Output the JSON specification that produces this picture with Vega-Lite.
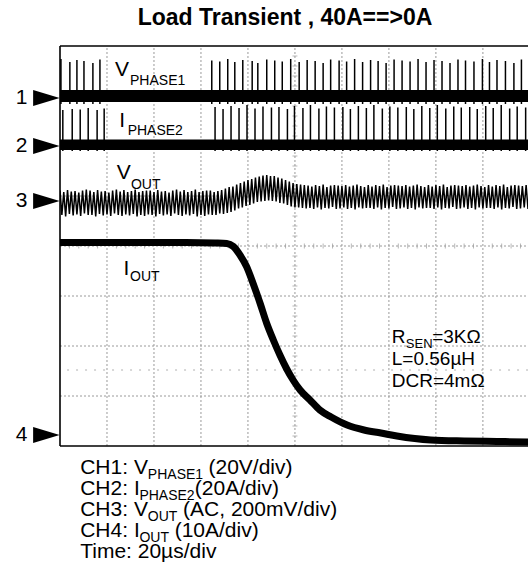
{
"$schema":"https://vega.github.io/schema/vega-lite/v6.json",
"width":468,"height":400,
"autosize":{"type":"none"},
"padding":{"left":60,"top":46,"right":0,"bottom":136},
"background":"white",
"config":{"view":{"stroke":null},"text":{"font":"Liberation Sans","color":"black"},"title":{"font":"Liberation Sans"}},
"title":{"text":"Load Transient , 40A==>0A","fontSize":23,"fontWeight":"bold","color":"black","anchor":"middle","frame":"group","dx":-9,"dy":23,"offset":20,"baseline":"alphabetic"},
"datasets":{
"grid":[{"t":1,"t2":1,"y":0,"y2":8},{"t":2,"t2":2,"y":0,"y2":8},{"t":3,"t2":3,"y":0,"y2":8},{"t":4,"t2":4,"y":0,"y2":8},{"t":5,"t2":5,"y":0,"y2":8},{"t":6,"t2":6,"y":0,"y2":8},{"t":7,"t2":7,"y":0,"y2":8},{"t":8,"t2":8,"y":0,"y2":8},{"t":9,"t2":9,"y":0,"y2":8},
{"t":0,"t2":9.96,"y":1,"y2":1},{"t":0,"t2":9.96,"y":2,"y2":2},{"t":0,"t2":9.96,"y":3,"y2":3},{"t":0,"t2":9.96,"y":4,"y2":4},{"t":0,"t2":9.96,"y":5,"y2":5},{"t":0,"t2":9.96,"y":6,"y2":6},{"t":0,"t2":9.96,"y":7,"y2":7}],
"dots":[{"t":0.15,"t2":9.96,"y":1.52,"y2":1.52}],
"xt":[{"t":0.2,"y":4},{"t":0.4,"y":4},{"t":0.6,"y":4},{"t":0.8,"y":4},{"t":1.2,"y":4},{"t":1.4,"y":4},{"t":1.6,"y":4},{"t":1.8,"y":4},{"t":2.2,"y":4},{"t":2.4,"y":4},{"t":2.6,"y":4},{"t":2.8,"y":4},{"t":3.2,"y":4},{"t":3.4,"y":4},{"t":3.6,"y":4},{"t":3.8,"y":4},{"t":4.2,"y":4},{"t":4.4,"y":4},{"t":4.6,"y":4},{"t":4.8,"y":4},{"t":5.2,"y":4},{"t":5.4,"y":4},{"t":5.6,"y":4},{"t":5.8,"y":4},{"t":6.2,"y":4},{"t":6.4,"y":4},{"t":6.6,"y":4},{"t":6.8,"y":4},{"t":7.2,"y":4},{"t":7.4,"y":4},{"t":7.6,"y":4},{"t":7.8,"y":4},{"t":8.2,"y":4},{"t":8.4,"y":4},{"t":8.6,"y":4},{"t":8.8,"y":4},{"t":9.2,"y":4},{"t":9.4,"y":4},{"t":9.6,"y":4},{"t":9.8,"y":4}],
"yt":[{"t":5,"y":0.2},{"t":5,"y":0.4},{"t":5,"y":0.6},{"t":5,"y":0.8},{"t":5,"y":1.2},{"t":5,"y":1.4},{"t":5,"y":1.6},{"t":5,"y":1.8},{"t":5,"y":2.2},{"t":5,"y":2.4},{"t":5,"y":2.6},{"t":5,"y":2.8},{"t":5,"y":3.2},{"t":5,"y":3.4},{"t":5,"y":3.6},{"t":5,"y":3.8},{"t":5,"y":4.2},{"t":5,"y":4.4},{"t":5,"y":4.6},{"t":5,"y":4.8},{"t":5,"y":5.2},{"t":5,"y":5.4},{"t":5,"y":5.6},{"t":5,"y":5.8},{"t":5,"y":6.2},{"t":5,"y":6.4},{"t":5,"y":6.6},{"t":5,"y":6.8},{"t":5,"y":7.2},{"t":5,"y":7.4},{"t":5,"y":7.6},{"t":5,"y":7.8}],
"frame":[{"t":0,"t2":0,"y":0,"y2":8},{"t":0,"t2":9.96,"y":8,"y2":8},{"t":0,"t2":9.96,"y":0,"y2":0}],
"bands":[{"t":0,"t2":9.96,"y":6.88,"y2":7.12},{"t":0,"t2":9.96,"y":5.92,"y2":6.13}],
"spk":[
{"t":0.02,"y":6.84,"y2":7.74},{"t":0.21,"y":6.84,"y2":7.68},{"t":0.36,"y":6.84,"y2":7.72},{"t":0.51,"y":6.84,"y2":7.70},{"t":0.70,"y":6.84,"y2":7.66},{"t":0.85,"y":6.84,"y2":7.73},
{"t":3.23,"y":6.84,"y2":7.71},{"t":3.40,"y":6.84,"y2":7.69},{"t":3.57,"y":6.84,"y2":7.74},{"t":3.72,"y":6.84,"y2":7.68},{"t":3.89,"y":6.84,"y2":7.72},{"t":4.09,"y":6.84,"y2":7.70},{"t":4.21,"y":6.84,"y2":7.66},{"t":4.40,"y":6.84,"y2":7.73},{"t":4.57,"y":6.84,"y2":7.71},{"t":4.73,"y":6.84,"y2":7.69},{"t":4.91,"y":6.84,"y2":7.74},{"t":5.09,"y":6.84,"y2":7.68},{"t":5.26,"y":6.84,"y2":7.72},{"t":5.43,"y":6.84,"y2":7.70},{"t":5.60,"y":6.84,"y2":7.66},{"t":5.76,"y":6.84,"y2":7.73},{"t":5.94,"y":6.84,"y2":7.71},{"t":6.10,"y":6.84,"y2":7.69},{"t":6.27,"y":6.84,"y2":7.74},{"t":6.44,"y":6.84,"y2":7.68},{"t":6.61,"y":6.84,"y2":7.72},{"t":6.77,"y":6.84,"y2":7.70},{"t":6.94,"y":6.84,"y2":7.66},{"t":7.11,"y":6.84,"y2":7.73},{"t":7.28,"y":6.84,"y2":7.71},{"t":7.45,"y":6.84,"y2":7.69},{"t":7.62,"y":6.84,"y2":7.74},{"t":7.79,"y":6.84,"y2":7.68},{"t":7.96,"y":6.84,"y2":7.72},{"t":8.13,"y":6.84,"y2":7.70},{"t":8.30,"y":6.84,"y2":7.66},{"t":8.47,"y":6.84,"y2":7.73},{"t":8.63,"y":6.84,"y2":7.71},{"t":8.81,"y":6.84,"y2":7.69},{"t":8.99,"y":6.84,"y2":7.74},{"t":9.14,"y":6.84,"y2":7.68},{"t":9.30,"y":6.84,"y2":7.72},{"t":9.48,"y":6.84,"y2":7.70},{"t":9.66,"y":6.84,"y2":7.66},{"t":9.82,"y":6.84,"y2":7.73},
{"t":0.06,"y":5.90,"y2":6.72},{"t":0.26,"y":5.90,"y2":6.74},{"t":0.43,"y":5.90,"y2":6.73},{"t":0.60,"y":5.90,"y2":6.76},{"t":0.79,"y":5.90,"y2":6.72},{"t":0.94,"y":5.90,"y2":6.75},
{"t":3.30,"y":5.90,"y2":6.78},{"t":3.47,"y":5.90,"y2":6.74},{"t":3.64,"y":5.90,"y2":6.80},{"t":3.81,"y":5.90,"y2":6.76},{"t":3.98,"y":5.90,"y2":6.82},{"t":4.15,"y":5.90,"y2":6.75},{"t":4.32,"y":5.90,"y2":6.79},{"t":4.50,"y":5.90,"y2":6.77},{"t":4.66,"y":5.90,"y2":6.78},{"t":4.84,"y":5.90,"y2":6.74},{"t":4.99,"y":5.90,"y2":6.80},{"t":5.17,"y":5.90,"y2":6.76},{"t":5.33,"y":5.90,"y2":6.82},{"t":5.51,"y":5.90,"y2":6.75},{"t":5.67,"y":5.90,"y2":6.79},{"t":5.84,"y":5.90,"y2":6.77},{"t":6.02,"y":5.90,"y2":6.78},{"t":6.18,"y":5.90,"y2":6.74},{"t":6.35,"y":5.90,"y2":6.80},{"t":6.52,"y":5.90,"y2":6.76},{"t":6.68,"y":5.90,"y2":6.82},{"t":6.86,"y":5.90,"y2":6.75},{"t":7.02,"y":5.90,"y2":6.79},{"t":7.19,"y":5.90,"y2":6.77},{"t":7.37,"y":5.90,"y2":6.78},{"t":7.53,"y":5.90,"y2":6.74},{"t":7.70,"y":5.90,"y2":6.80},{"t":7.87,"y":5.90,"y2":6.76},{"t":8.03,"y":5.90,"y2":6.82},{"t":8.21,"y":5.90,"y2":6.75},{"t":8.38,"y":5.90,"y2":6.79},{"t":8.54,"y":5.90,"y2":6.77},{"t":8.72,"y":5.90,"y2":6.78},{"t":8.88,"y":5.90,"y2":6.74},{"t":9.06,"y":5.90,"y2":6.80},{"t":9.22,"y":5.90,"y2":6.76},{"t":9.39,"y":5.90,"y2":6.82},{"t":9.57,"y":5.90,"y2":6.75},{"t":9.73,"y":5.90,"y2":6.79},{"t":9.91,"y":5.90,"y2":6.77}],
"ch3":[
{"t":0.00,"y":5.11},{"t":0.04,"y":4.62},{"t":0.08,"y":5.08},{"t":0.12,"y":4.59},{"t":0.16,"y":5.12},{"t":0.20,"y":4.64},{"t":0.24,"y":5.09},{"t":0.28,"y":4.61},{"t":0.32,"y":5.10},{"t":0.36,"y":4.63},{"t":0.40,"y":5.07},{"t":0.44,"y":4.60},{"t":0.48,"y":5.11},{"t":0.52,"y":4.65},{"t":0.56,"y":5.13},{"t":0.60,"y":4.62},
{"t":0.64,"y":5.11},{"t":0.68,"y":4.62},{"t":0.72,"y":5.08},{"t":0.76,"y":4.59},{"t":0.80,"y":5.12},{"t":0.84,"y":4.64},{"t":0.88,"y":5.09},{"t":0.92,"y":4.61},{"t":0.96,"y":5.10},{"t":1.00,"y":4.63},{"t":1.04,"y":5.07},{"t":1.08,"y":4.60},{"t":1.12,"y":5.11},{"t":1.16,"y":4.65},{"t":1.20,"y":5.13},{"t":1.24,"y":4.62},
{"t":1.28,"y":5.09},{"t":1.32,"y":4.60},{"t":1.36,"y":5.12},{"t":1.40,"y":4.63},{"t":1.44,"y":5.08},{"t":1.48,"y":4.61},{"t":1.52,"y":5.10},{"t":1.56,"y":4.64},{"t":1.60,"y":5.13},{"t":1.64,"y":4.59},{"t":1.68,"y":5.08},{"t":1.72,"y":4.62},{"t":1.76,"y":5.10},{"t":1.80,"y":4.60},{"t":1.84,"y":5.11},{"t":1.88,"y":4.63},
{"t":1.92,"y":5.11},{"t":1.96,"y":4.62},{"t":2.00,"y":5.08},{"t":2.04,"y":4.59},{"t":2.08,"y":5.12},{"t":2.12,"y":4.64},{"t":2.16,"y":5.09},{"t":2.20,"y":4.61},{"t":2.24,"y":5.10},{"t":2.28,"y":4.63},{"t":2.32,"y":5.07},{"t":2.36,"y":4.60},{"t":2.40,"y":5.11},{"t":2.44,"y":4.65},{"t":2.48,"y":5.13},{"t":2.52,"y":4.62},
{"t":2.56,"y":5.09},{"t":2.60,"y":4.60},{"t":2.64,"y":5.12},{"t":2.68,"y":4.63},{"t":2.72,"y":5.08},{"t":2.76,"y":4.61},{"t":2.80,"y":5.10},{"t":2.84,"y":4.64},{"t":2.88,"y":5.13},{"t":2.92,"y":4.59},{"t":2.96,"y":5.08},{"t":3.00,"y":4.62},{"t":3.04,"y":5.10},{"t":3.08,"y":4.60},{"t":3.12,"y":5.11},{"t":3.16,"y":4.63},
{"t":3.20,"y":5.11},{"t":3.24,"y":4.62},{"t":3.28,"y":5.08},{"t":3.32,"y":4.62},{"t":3.36,"y":5.10},{"t":3.40,"y":4.65},{"t":3.44,"y":5.12},{"t":3.48,"y":4.64},{"t":3.52,"y":5.15},{"t":3.56,"y":4.66},{"t":3.60,"y":5.18},{"t":3.64,"y":4.68},{"t":3.68,"y":5.19},{"t":3.72,"y":4.71},{"t":3.76,"y":5.23},{"t":3.80,"y":4.75},
{"t":3.84,"y":5.26},{"t":3.88,"y":4.77},{"t":3.92,"y":5.29},{"t":3.96,"y":4.80},{"t":4.00,"y":5.32},{"t":4.04,"y":4.82},{"t":4.08,"y":5.34},{"t":4.12,"y":4.85},{"t":4.16,"y":5.37},{"t":4.20,"y":4.88},{"t":4.24,"y":5.39},{"t":4.28,"y":4.89},{"t":4.32,"y":5.41},{"t":4.36,"y":4.90},{"t":4.40,"y":5.42},{"t":4.44,"y":4.91},
{"t":4.48,"y":5.40},{"t":4.52,"y":4.90},{"t":4.56,"y":5.40},{"t":4.60,"y":4.89},{"t":4.64,"y":5.37},{"t":4.68,"y":4.86},{"t":4.72,"y":5.35},{"t":4.76,"y":4.85},{"t":4.80,"y":5.32},{"t":4.84,"y":4.82},{"t":4.88,"y":5.29},{"t":4.92,"y":4.79},{"t":4.96,"y":5.26},{"t":5.00,"y":4.77},{"t":5.04,"y":5.24},{"t":5.08,"y":4.77},
{"t":5.12,"y":5.23},{"t":5.16,"y":4.76},{"t":5.20,"y":5.22},{"t":5.24,"y":4.75},{"t":5.28,"y":5.21},
{"t":5.32,"y":4.76},{"t":5.36,"y":5.19},{"t":5.40,"y":4.74},{"t":5.44,"y":5.22},{"t":5.48,"y":4.77},{"t":5.52,"y":5.20},{"t":5.56,"y":4.73},{"t":5.60,"y":5.23},{"t":5.64,"y":4.76},{"t":5.68,"y":5.18},{"t":5.72,"y":4.75},{"t":5.76,"y":5.21},{"t":5.80,"y":4.78},{"t":5.84,"y":5.22},{"t":5.88,"y":4.74},{"t":5.92,"y":5.21},
{"t":5.96,"y":4.75},{"t":6.00,"y":5.20},{"t":6.04,"y":4.77},{"t":6.08,"y":5.22},{"t":6.12,"y":4.74},{"t":6.16,"y":5.19},{"t":6.20,"y":4.76},{"t":6.24,"y":5.21},{"t":6.28,"y":4.73},{"t":6.32,"y":5.23},{"t":6.36,"y":4.77},{"t":6.40,"y":5.20},{"t":6.44,"y":4.75},{"t":6.48,"y":5.18},{"t":6.52,"y":4.76},{"t":6.56,"y":5.22},
{"t":6.60,"y":4.76},{"t":6.64,"y":5.19},{"t":6.68,"y":4.74},{"t":6.72,"y":5.22},{"t":6.76,"y":4.77},{"t":6.80,"y":5.20},{"t":6.84,"y":4.73},{"t":6.88,"y":5.23},{"t":6.92,"y":4.76},{"t":6.96,"y":5.18},{"t":7.00,"y":4.75},{"t":7.04,"y":5.21},{"t":7.08,"y":4.78},{"t":7.12,"y":5.22},{"t":7.16,"y":4.74},{"t":7.20,"y":5.21},
{"t":7.24,"y":4.75},{"t":7.28,"y":5.20},{"t":7.32,"y":4.77},{"t":7.36,"y":5.22},{"t":7.40,"y":4.74},{"t":7.44,"y":5.19},{"t":7.48,"y":4.76},{"t":7.52,"y":5.21},{"t":7.56,"y":4.73},{"t":7.60,"y":5.23},{"t":7.64,"y":4.77},{"t":7.68,"y":5.20},{"t":7.72,"y":4.75},{"t":7.76,"y":5.18},{"t":7.80,"y":4.76},{"t":7.84,"y":5.22},
{"t":7.88,"y":4.76},{"t":7.92,"y":5.19},{"t":7.96,"y":4.74},{"t":8.00,"y":5.22},{"t":8.04,"y":4.77},{"t":8.08,"y":5.20},{"t":8.12,"y":4.73},{"t":8.16,"y":5.23},{"t":8.20,"y":4.76},{"t":8.24,"y":5.18},{"t":8.28,"y":4.75},{"t":8.32,"y":5.21},{"t":8.36,"y":4.78},{"t":8.40,"y":5.22},{"t":8.44,"y":4.74},{"t":8.48,"y":5.21},
{"t":8.52,"y":4.75},{"t":8.56,"y":5.20},{"t":8.60,"y":4.77},{"t":8.64,"y":5.22},{"t":8.68,"y":4.74},{"t":8.72,"y":5.19},{"t":8.76,"y":4.76},{"t":8.80,"y":5.21},{"t":8.84,"y":4.73},{"t":8.88,"y":5.23},{"t":8.92,"y":4.77},{"t":8.96,"y":5.20},{"t":9.00,"y":4.75},{"t":9.04,"y":5.18},{"t":9.08,"y":4.76},{"t":9.12,"y":5.22},
{"t":9.16,"y":4.76},{"t":9.20,"y":5.19},{"t":9.24,"y":4.74},{"t":9.28,"y":5.22},{"t":9.32,"y":4.77},{"t":9.36,"y":5.20},{"t":9.40,"y":4.73},{"t":9.44,"y":5.23},{"t":9.48,"y":4.76},{"t":9.52,"y":5.18},{"t":9.56,"y":4.75},{"t":9.60,"y":5.21},{"t":9.64,"y":4.78},{"t":9.68,"y":5.22},{"t":9.72,"y":4.74},{"t":9.76,"y":5.21},
{"t":9.80,"y":4.75},{"t":9.84,"y":5.20},{"t":9.88,"y":4.77},{"t":9.92,"y":5.22},{"t":9.96,"y":4.74},{"t":10.00,"y":5.19}],
"ch4":[{"t":0,"y":4.07},{"t":1.0,"y":4.07},{"t":2.0,"y":4.07},{"t":2.98,"y":4.066},{"t":3.30,"y":4.06},{"t":3.55,"y":4.05},{"t":3.69,"y":3.99},{"t":3.83,"y":3.82},{"t":3.97,"y":3.59},{"t":4.11,"y":3.25},{"t":4.26,"y":2.85},{"t":4.40,"y":2.45},{"t":4.54,"y":2.12},{"t":4.68,"y":1.82},{"t":4.82,"y":1.55},{"t":4.96,"y":1.32},{"t":5.11,"y":1.12},{"t":5.32,"y":0.92},{"t":5.53,"y":0.72},{"t":5.77,"y":0.58},{"t":6.11,"y":0.42},{"t":6.47,"y":0.32},{"t":6.83,"y":0.26},{"t":7.17,"y":0.20},{"t":7.89,"y":0.12},{"t":8.60,"y":0.10},{"t":9.30,"y":0.09},{"t":10.0,"y":0.08}],
"mk":[{"n":"1","t":-0.29,"tn":-0.82,"y":6.96},{"n":"2","t":-0.29,"tn":-0.82,"y":6.0},{"n":"3","t":-0.29,"tn":-0.82,"y":4.9},{"n":"4","t":-0.29,"tn":-0.82,"y":0.22}],
"txt21":[{"txt":"V","t":1.17,"y":7.4},{"txt":"I","t":1.26,"y":6.38},{"txt":"V","t":1.21,"y":5.34},{"txt":"I","t":1.35,"y":3.42},
{"txt":"CH1: V","t":0.43,"y":-0.56},{"txt":"(20V/div)","t":3.16,"y":-0.56},{"txt":"CH2: I","t":0.43,"y":-0.98},{"txt":"(20A/div)","t":2.87,"y":-0.98},{"txt":"CH3: V","t":0.43,"y":-1.40},{"txt":"(AC, 200mV/div)","t":2.62,"y":-1.40},{"txt":"CH4: I","t":0.43,"y":-1.82},{"txt":"(10A/div)","t":2.44,"y":-1.82},{"txt":"Time: 20µs/div","t":0.43,"y":-2.24}],
"txt14":[{"txt":"PHASE1","t":1.49,"y":7.22},{"txt":"PHASE2","t":1.44,"y":6.22},{"txt":"OUT","t":1.51,"y":5.14},{"txt":"OUT","t":1.49,"y":3.30},
{"txt":"PHASE1","t":1.87,"y":-0.66},{"txt":"PHASE2","t":1.69,"y":-1.08},{"txt":"OUT","t":1.87,"y":-1.50},{"txt":"OUT","t":1.69,"y":-1.92}],
"txt19":[{"txt":"R","t":7.06,"y":2.06},{"txt":"=3KΩ","t":7.92,"y":2.06},{"txt":"L=0.56µH","t":7.06,"y":1.62},{"txt":"DCR=4mΩ","t":7.06,"y":1.18}],
"txt13":[{"txt":"SEN","t":7.36,"y":1.96}]
},
"encoding":{
"x":{"field":"t","type":"quantitative","scale":{"domain":[0,9.96],"nice":false,"zero":false},"axis":null},
"y":{"field":"y","type":"quantitative","scale":{"domain":[0,8],"nice":false,"zero":false},"axis":null}
},
"layer":[
{"data":{"name":"grid"},"mark":{"type":"rule","color":"#9a9a9a","strokeDash":[2,2],"strokeWidth":1},"encoding":{"x2":{"field":"t2"},"y2":{"field":"y2"}}},
{"data":{"name":"dots"},"mark":{"type":"rule","color":"#b0b0b0","strokeDash":[2,7],"strokeWidth":1},"encoding":{"x2":{"field":"t2"},"y2":{"field":"y2"}}},
{"data":{"name":"xt"},"mark":{"type":"tick","orient":"vertical","size":5,"thickness":1,"color":"#9a9a9a"},"encoding":{}},
{"data":{"name":"yt"},"mark":{"type":"tick","orient":"horizontal","size":5,"thickness":1,"color":"#9a9a9a"},"encoding":{}},
{"data":{"name":"bands"},"mark":{"type":"rect","color":"black"},"encoding":{"x2":{"field":"t2"},"y2":{"field":"y2"}}},
{"data":{"name":"spk"},"mark":{"type":"rule","color":"black","strokeWidth":1.5},"encoding":{"y2":{"field":"y2"}}},
{"data":{"name":"ch3"},"mark":{"type":"line","color":"black","strokeWidth":1.5,"clip":true},"encoding":{}},
{"data":{"name":"ch4"},"mark":{"type":"line","color":"black","strokeWidth":7,"interpolate":"monotone","clip":true},"encoding":{}},
{"data":{"name":"frame"},"mark":{"type":"rule","color":"black","strokeWidth":1.6},"encoding":{"x2":{"field":"t2"},"y2":{"field":"y2"}}},
{"data":{"name":"mk"},"mark":{"type":"point","shape":"M-1,-0.6L1,0L-1,0.6Z","filled":true,"color":"black","size":700,"opacity":1,"strokeWidth":0},"encoding":{}},
{"data":{"name":"mk"},"mark":{"type":"text","fontSize":21,"align":"center","baseline":"middle"},"encoding":{"x":{"field":"tn"},"text":{"field":"n"}}},
{"data":{"name":"txt21"},"mark":{"type":"text","fontSize":21,"align":"left","baseline":"alphabetic"},"encoding":{"text":{"field":"txt"}}},
{"data":{"name":"txt14"},"mark":{"type":"text","fontSize":14,"align":"left","baseline":"alphabetic"},"encoding":{"text":{"field":"txt"}}},
{"data":{"name":"txt19"},"mark":{"type":"text","fontSize":19,"align":"left","baseline":"alphabetic"},"encoding":{"text":{"field":"txt"}}},
{"data":{"name":"txt13"},"mark":{"type":"text","fontSize":13,"align":"left","baseline":"alphabetic"},"encoding":{"text":{"field":"txt"}}}
]
}
